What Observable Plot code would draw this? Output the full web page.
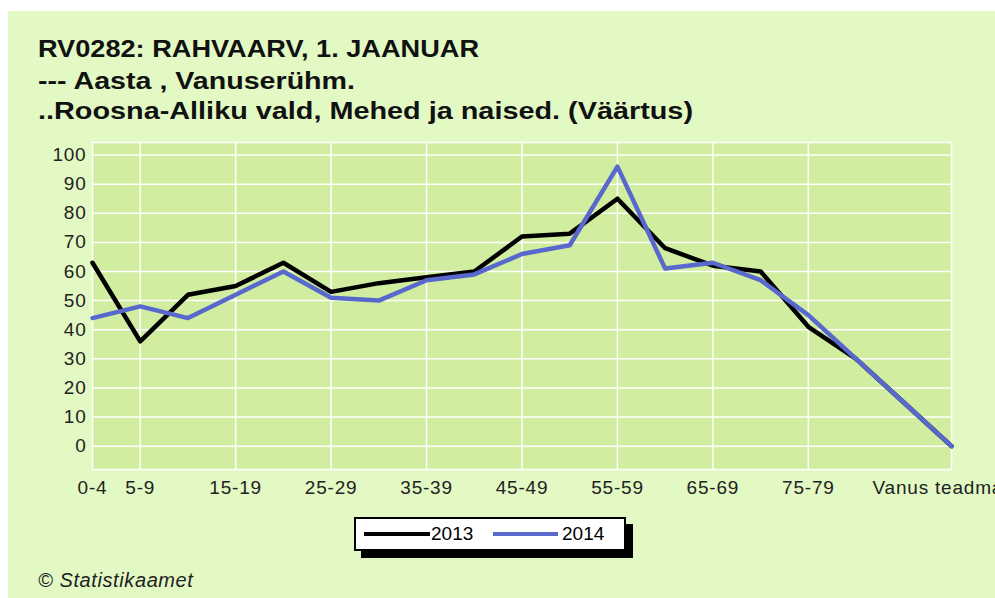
<!DOCTYPE html>
<html>
<head>
<meta charset="utf-8">
<script src="https://cdn.jsdelivr.net/npm/d3@7"></script>
<script src="https://cdn.jsdelivr.net/npm/@observablehq/plot@0.6"></script>
<style>
  html, body { margin: 0; padding: 0; background: #ffffff; overflow: hidden; }
  #wrap { position: relative; width: 995px; height: 598px; overflow: hidden; font-family: "Liberation Sans", Arial, sans-serif; }
  #panel { position: absolute; left: 8px; top: 11px; width: 987px; height: 587px; background: #e2f9c4; }
  #title { position: absolute; left: 0; top: 0; }
  #chart { position: absolute; left: 0; top: 130px; }
  #chart svg text { letter-spacing: 0.8px; }
  #legend { position: absolute; left: 354px; top: 517px; width: 268px; height: 30px; background: #fff; border: 2px solid #000; box-shadow: 7px 7px 0 #000; }
  #legend .sw { position: absolute; height: 4px; top: 13px; }
  #legend .lb { position: absolute; top: 4px; font-size: 19px; color: #000; line-height: 22px; }
  #caption { position: absolute; left: 38px; top: 569px; font-size: 20px; letter-spacing: 0.6px; font-style: italic; color: #222; }
</style>
</head>
<body>
<div id="wrap">
  <div id="panel"></div>
  <svg id="title" width="995" height="130"></svg>
  <div id="chart"></div>
  <div id="legend"></div>
  <div id="caption">© Statistikaamet</div>
</div>
<script>
const titleLines = [
  "RV0282: RAHVAARV, 1. JAANUAR",
  "--- Aasta , Vanuserühm.",
  "..Roosna-Alliku vald, Mehed ja naised. (Väärtus)"
];
const categories = ["0-4","5-9","10-14","15-19","20-24","25-29","30-34","35-39","40-44","45-49","50-54","55-59","60-64","65-69","70-74","75-79","80-84","85+","Vanus teadmata"];
const series = ["2013", "2014"];
const values2013 = [63,36,52,55,63,53,56,58,60,72,73,85,68,62,60,41,30,15,0];
const values2014 = [44,48,44,52,60,51,50,57,59,66,69,96,61,63,57,45,30,15,0];
const xTickLabels = ["0-4","5-9","15-19","25-29","35-39","45-49","55-59","65-69","75-79"];
const xGridCats = ["5-9","15-19","25-29","35-39","45-49","55-59","65-69","75-79"];
const lastLabel = "Vanus teadmata";
const yTicks = [0,10,20,30,40,50,60,70,80,90,100];
const colors = ["#000000", "#5868cc"];

// title
const tsvg = d3.select("#title");
const tLayout = [{y: 57, w: 441}, {y: 89, w: 317}, {y: 119, w: 655}];
titleLines.forEach((t, i) => {
  tsvg.append("text")
    .attr("x", 38).attr("y", tLayout[i].y)
    .attr("textLength", tLayout[i].w).attr("lengthAdjust", "spacingAndGlyphs")
    .attr("font-family", "'Liberation Sans', Arial, sans-serif")
    .attr("font-weight", "bold").attr("font-size", 23)
    .attr("fill", "#111")
    .text(t);
});

const data = [];
categories.forEach((c, i) => {
  data.push({cat: c, year: series[0], v: values2013[i]});
});
categories.forEach((c, i) => {
  data.push({cat: c, year: series[1], v: values2014[i]});
});

const chart = Plot.plot({
  width: 995,
  height: 380,
  marginLeft: 92,
  marginRight: 44,
  marginTop: 12,
  marginBottom: 41,
  style: {background: "transparent", fontFamily: "'Liberation Sans', Arial, sans-serif", fontSize: "19px", color: "#222", overflow: "visible"},
  x: {type: "point", domain: categories, padding: 0, round: false, axis: null},
  y: {domain: [-8, 104.3], axis: null},
  color: {domain: series, range: colors},
  marks: [
    Plot.frame({fill: "#d0eda0", stroke: "#ffffff", strokeWidth: 1.5}),
    Plot.gridY(yTicks, {stroke: "#ffffff", strokeOpacity: 1, strokeWidth: 1.5}),
    Plot.gridX(xGridCats, {stroke: "#ffffff", strokeOpacity: 1, strokeWidth: 1.5}),
    Plot.axisY(yTicks, {tickSize: 0, tickPadding: 6, fontSize: 19, label: null}),
    Plot.axisX(xTickLabels, {tickSize: 0, tickPadding: 11, fontSize: 19, label: null}),
    Plot.text([lastLabel], {x: d => d, frameAnchor: "bottom", lineAnchor: "top", dy: 11, textAnchor: "start", dx: -79, fontSize: 19, fill: "#222"}),
    Plot.line(data, {x: "cat", y: "v", z: "year", stroke: "year", strokeWidth: 4.5, strokeLinejoin: "round"})
  ]
});
document.getElementById("chart").appendChild(chart);

// legend
const lg = document.getElementById("legend");
const lgLayout = [{sw: 8, sww: 66, lb: 75}, {sw: 137, sww: 65, lb: 206}];
series.forEach((s, i) => {
  const sw = document.createElement("div");
  sw.className = "sw";
  sw.style.left = lgLayout[i].sw + "px";
  sw.style.width = lgLayout[i].sww + "px";
  sw.style.background = colors[i];
  lg.appendChild(sw);
  const lb = document.createElement("div");
  lb.className = "lb";
  lb.style.left = lgLayout[i].lb + "px";
  lb.textContent = s;
  lg.appendChild(lb);
});
</script>
</body>
</html>
